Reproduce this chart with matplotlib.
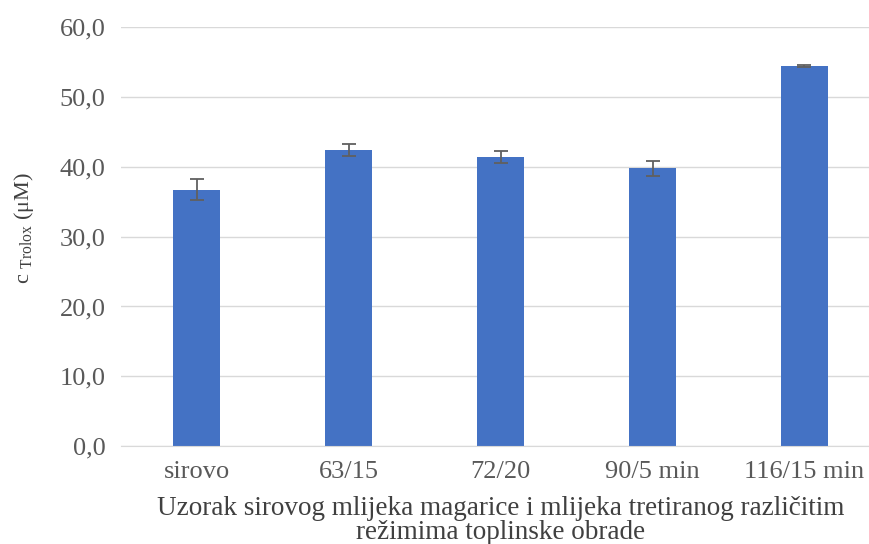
import matplotlib

matplotlib.use("Agg")
import matplotlib.pyplot as plt
from matplotlib.ticker import FuncFormatter

categories = ["sirovo", "63/15", "72/20", "90/5 min", "116/15 min"]
values = [36.7, 42.4, 41.4, 39.8, 54.5]
errors = [1.5, 0.9, 0.9, 1.05, 0.15]

plt.rcParams["font.family"] = ["Liberation Serif", "DejaVu Serif"]
plt.rcParams["mathtext.fontset"] = "custom"
plt.rcParams["mathtext.rm"] = "Liberation Serif"

fig = plt.figure(figsize=(8.7, 5.44), dpi=100)
ax = fig.add_axes([0.139, 0.180, 0.873, 0.770])

x = range(len(categories))
ax.bar(x, values, width=0.31, color="#4472C4", zorder=2,
       yerr=errors, capsize=5,
       error_kw=dict(ecolor="#606060", elinewidth=1.3, capthick=1.3))

ax.set_ylim(0, 60)
ax.set_xlim(-0.5, 4.5)
ax.set_yticks(range(0, 61, 10))
ax.yaxis.set_major_formatter(FuncFormatter(lambda v, p: f"{v:.1f}".replace(".", ",")))
ax.set_xticks(list(x))
ax.set_xticklabels(categories)
ax.tick_params(length=0, labelsize=19, colors="#595959")
ax.tick_params(axis="y", pad=11)
ax.tick_params(axis="x", pad=11)

ax.grid(axis="y", color="#d9d9d9", linewidth=1, zorder=0)
for s in ["top", "right", "left"]:
    ax.spines[s].set_visible(False)
ax.spines["bottom"].set_color("#d9d9d9")

ax.set_ylabel(r"c $_{\mathrm{Trolox}}$ (μM)", fontsize=16, color="#404040")
ax.yaxis.set_label_coords(-0.112, 0.52)
ax.set_xlabel("Uzorak sirovog mlijeka magarice i mlijeka tretiranog različitim\nrežimima toplinske obrade",
              fontsize=19.5, color="#404040", labelpad=9, linespacing=0.95)

fig.savefig("out.png", dpi=100)
